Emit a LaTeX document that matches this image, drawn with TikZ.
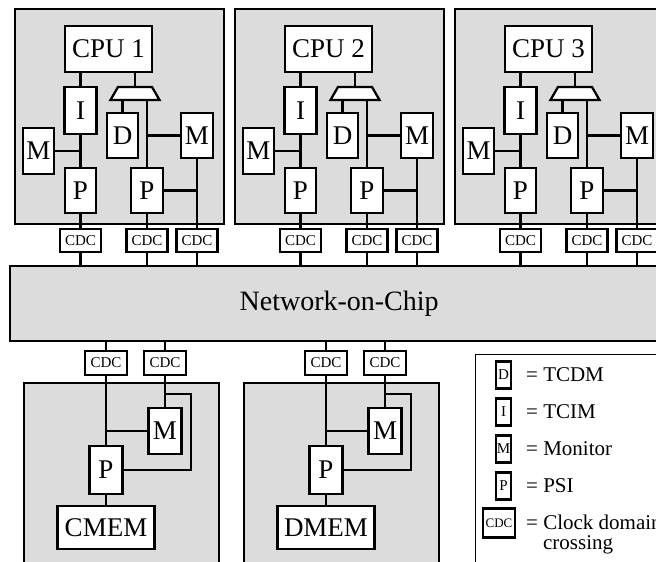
\documentclass[tikz,border=0pt]{standalone}
\usepackage{fontspec}
\setmainfont{Liberation Serif}
\usetikzlibrary{calc}
\definecolor{tileColor}{RGB}{220,220,220}

\begin{document}
\begin{tikzpicture}[
        x=1pt, y=-1pt,
        line width=2.3pt,
        tile/.style={
                draw,
                fill=tileColor
            },
        block/.style={
                draw,
                fill=white,
                inner sep=0pt,
                font=\fontsize{27}{27}\selectfont
            },
        smallbox/.style={block, minimum width=32pt, minimum height=46pt},
        cdcbox/.style={
                draw,
                fill=white,
                inner sep=0pt,
                minimum width=41pt,
                minimum height=23pt,
                font=\fontsize{15}{15}\selectfont
            },
        mux/.style={draw, fill=white},
        legendbox/.style={draw, fill=white, inner sep=0pt, minimum width=15pt, minimum height=27pt, font=\fontsize{15}{15}\selectfont},
        legendtext/.style={anchor=west, inner sep=0pt, font=\fontsize{21}{21}\selectfont}
    ]

    \useasboundingbox (0,0) rectangle (656,562);
    \clip (0,0) rectangle (656,562);

    % ---- Network-on-Chip ----
    \node[tile, minimum width=658pt, minimum height=75pt, anchor=north west,
        font=\fontsize{28}{28}\selectfont] (noc) at (9,265) {Network-on-Chip};

    % ---- CPU tiles ----
    \foreach \i/\tx in {1/14, 2/234, 3/454}{
        \node[tile, minimum width=209pt, minimum height=215pt, anchor=north west] (tile\i) at (\tx,8) {};
        \node[block, minimum width=87pt, minimum height=46pt] (cpu\i) at (\tx+94.5,49) {CPU \i};
        \node[smallbox, minimum height=47pt] (imem\i) at (\tx+66.5,110.5) {I};
        \node[smallbox, minimum width=31pt, minimum height=45pt] (dmem\i) at (\tx+108.5,135.5) {D};
        \node[smallbox, minimum height=45pt] (monB\i) at (\tx+183,135.5) {M};
        \node[smallbox, minimum width=31pt] (monA\i) at (\tx+24.5,151) {M};
        \node[smallbox, minimum width=31pt, minimum height=45pt] (psiA\i) at (\tx+66.5,190.5) {P};
        \node[smallbox, minimum height=45pt] (psiB\i) at (\tx+133,190.5) {P};
        \node[cdcbox] (cdcA\i) at (\tx+66.5,240.5) {CDC};
        \node[cdcbox] (cdcB\i) at (\tx+133,240.5) {CDC};
        \node[cdcbox] (cdcC\i) at (\tx+183,240.5) {CDC};

        % data-side multiplexer
        \coordinate (muxT\i) at (\tx+121,87);
        \coordinate (muxB\i) at (\tx+121,100);
        \draw[mux] (\tx+104,87) -- (\tx+138,87) -- (\tx+145.5,100) -- (\tx+96.5,100) -- cycle;

        % wiring inside the tile
        \draw (cpu\i.south -| imem\i.north) -- (imem\i.north);
        \draw (muxT\i) -- (muxT\i |- cpu\i.south);
        \draw (muxB\i -| dmem\i.north) -- (dmem\i.north);
        \draw (muxB\i -| psiB\i.north) -- (psiB\i.north);
        \draw (imem\i.south) -- (psiA\i.north);
        \draw (monA\i.east) -- (monA\i.east -| psiA\i.north);
        \draw (monB\i.west) -- (monB\i.west -| psiB\i.north);
        \draw (psiB\i.east) -- (psiB\i.east -| monB\i.south);
        \draw (monB\i.south) -- (cdcC\i.north);
        \draw (psiA\i.south) -- (cdcA\i.north);
        \draw (psiB\i.south) -- (cdcB\i.north);

        % down to the NoC
        \foreach \c in {A,B,C}
        \draw (cdc\c\i.south) -- (cdc\c\i.south |- noc.north);
    }

    % ---- Memory tiles ----
    \foreach \j/\mx/\lab in {1/23/CMEM, 2/243/DMEM}{
        \node[tile, minimum width=195pt, minimum height=220pt, anchor=north west] (mtile\j) at (\mx,382) {};
        \node[cdcbox, minimum width=42pt, minimum height=24pt] (mcdcA\j) at (\mx+83,363) {CDC};
        \node[cdcbox, minimum width=42pt, minimum height=24pt] (mcdcB\j) at (\mx+142,363) {CDC};
        \node[smallbox, minimum width=33pt] (mmon\j) at (\mx+142,431) {M};
        \node[smallbox, minimum width=33pt, minimum height=48pt] (mpsi\j) at (\mx+83,470) {P};
        \node[block, minimum width=97pt, minimum height=43pt] (mem\j) at (\mx+83,527.5) {\lab};
        \coordinate (mloop\j) at (\mx+168,394);

        \draw (mcdcA\j.north) -- (mcdcA\j.north |- noc.south);
        \draw (mcdcB\j.north) -- (mcdcB\j.north |- noc.south);
        \draw (mcdcA\j.south) -- (mpsi\j.north);
        \draw (mcdcB\j.south) -- (mmon\j.north);
        \draw (mmon\j.west) -- (mmon\j.west -| mpsi\j.north);
        \draw (mloop\j -| mmon\j.north) -- (mloop\j) |- (mpsi\j.east);
        \draw (mpsi\j.south) -- (mem\j.north);
    }

    % ---- Legend ----
    \node[draw, fill=white, line width=1.3pt, minimum width=250pt, minimum height=250pt, anchor=north west] (legend) at (475,354) {};
    \node[legendbox] (legD) at (503.5,375) {D};
    \node[legendbox] (legI) at (503.5,412) {I};
    \node[legendbox] (legM) at (503.5,449) {M};
    \node[legendbox] (legP) at (503.5,486) {P};
    \node[legendbox, minimum width=32pt, minimum height=29pt, font=\fontsize{13}{13}\selectfont] (legC) at (499,523) {CDC};
    \node[legendtext] (legDtxt) at (525,375) {= TCDM};
    \node[legendtext] (legItxt) at (525,412) {= TCIM};
    \node[legendtext] (legMtxt) at (525,449) {= Monitor};
    \node[legendtext] (legPtxt) at (525,486) {= PSI};
    \node[legendtext] (legCtxt) at (525,522) {= Clock domain};
    \node[legendtext] (legCtxt2) at (542,545) {crossing};
\end{tikzpicture}
\end{document}
